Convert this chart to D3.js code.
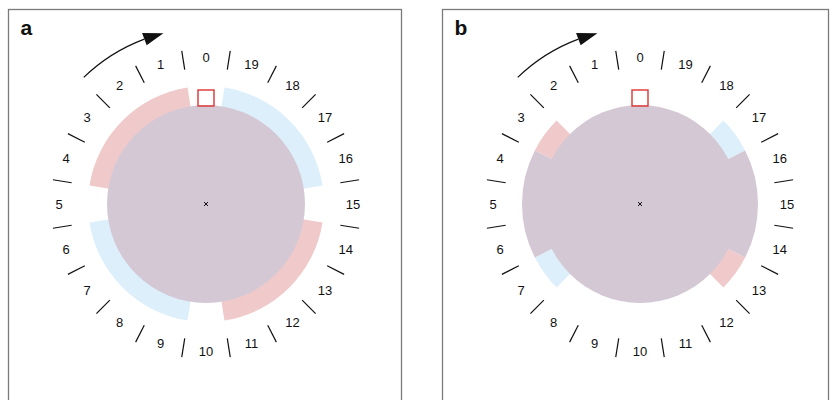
<!DOCTYPE html>
<html>
<head>
<meta charset="utf-8">
<script src="https://cdn.jsdelivr.net/npm/d3@7"></script>
<style>
  body { margin: 0; background: #fff; }
  svg { display: block; }
  text { font-family: "Liberation Sans", Arial, Helvetica, sans-serif; fill: #111; }
  .panel-box { fill: none; stroke: #7a7a7a; stroke-width: 1.3; }
  .tick { stroke: #111; stroke-width: 1.2; }
  .sector-label { font-size: 13px; }
  .panel-label { font-size: 21px; font-weight: bold; }
</style>
</head>
<body>
<svg id="chart"></svg>
<script>
  //begin: data
  var sectorLabels = d3.range(20).map(String);   // 0..19, counting anticlockwise from top
  var panelNames = ["a", "b"];
  var pinkSectors = [[1, 2, 3, 4, 11, 12, 13, 14], [3, 13]];
  var blueSectors = [[6, 7, 8, 9, 16, 17, 18, 19], [7, 17]];
  var bothSectors = [[], [4, 5, 6, 14, 15, 16]];
  //end: data

  //begin: layout conf.
  var svgWidth = 830,
      svgHeight = 400,
      panels = [
        {x: 8.5, y: 9.5, w: 393, cx: 206, cy: 204},
        {x: 442.5, y: 9.5, w: 386, cx: 640, cy: 204}
      ],
      discRadius = 99,
      ringRadius = 118,
      tickInner = 136,
      tickOuter = 155,
      labelRadius = 147,
      arrowRadius = 176,
      colors = {pink: "#f0caca", blue: "#ddeffb", both: "#d4c8d5"};
  //end: layout conf.

  var toRad = Math.PI / 180;

  // sector index -> angle (d3.arc convention: 0 at top, clockwise positive)
  var angle = d3.scaleLinear().domain([0, 20]).range([0, -360 * toRad]);
  var halfStep = Math.abs(angle(1) - angle(0)) / 2;

  // merge neighbouring sectors into runs so no seams show between them
  function runs(list) {
    var out = [];
    list.slice().sort(d3.ascending).forEach(function(i) {
      var last = out[out.length - 1];
      if (last && last[1] === i - 1) last[1] = i;
      else out.push([i, i]);
    });
    return out;
  }

  var ringArc = d3.arc()
    .innerRadius(discRadius - 1)
    .outerRadius(ringRadius)
    .startAngle(function(d){ return angle(d[1]) - halfStep; })
    .endAngle(function(d){ return angle(d[0]) + halfStep; });

  var svg = d3.select("#chart")
    .attr("width", svgWidth)
    .attr("height", svgHeight);

  panels.forEach(function(p, k) {
    svg.append("rect")
      .classed("panel-box", true)
      .attr("x", p.x)
      .attr("y", p.y)
      .attr("width", p.w)
      .attr("height", svgHeight + 20);

    svg.append("text")
      .classed("panel-label", true)
      .attr("x", p.x + 12)
      .attr("y", p.y + 25)
      .text(panelNames[k]);

    var g = svg.append("g")
      .attr("transform", "translate(" + [p.cx, p.cy] + ")");

    // coloured ring sectors
    [["pink", pinkSectors[k]], ["blue", blueSectors[k]], ["both", bothSectors[k]]].forEach(function(s) {
      g.selectAll(".ring-" + s[0])
        .data(runs(s[1]))
        .enter().append("path")
          .attr("class", "ring-" + s[0])
          .attr("d", ringArc)
          .style("fill", colors[s[0]]);
    });

    // central disc
    g.append("circle")
      .attr("r", discRadius)
      .style("fill", colors.both);

    // centre cross
    g.append("path")
      .attr("d", "M-2,-2L2,2M-2,2L2,-2")
      .style("stroke", "#111")
      .style("stroke-width", 1);

    // reference square at sector 0
    g.append("rect")
      .attr("x", -8)
      .attr("y", -discRadius - 15)
      .attr("width", 16)
      .attr("height", 16)
      .style("fill", "none")
      .style("stroke", "#e03333")
      .style("stroke-width", 1.4);

    // tick marks between sectors
    g.selectAll(".tick")
      .data(sectorLabels)
      .enter().append("line")
        .classed("tick", true)
        .attr("x1", function(d, i){ return tickInner * Math.sin(angle(i) + halfStep); })
        .attr("y1", function(d, i){ return -tickInner * Math.cos(angle(i) + halfStep); })
        .attr("x2", function(d, i){ return tickOuter * Math.sin(angle(i) + halfStep); })
        .attr("y2", function(d, i){ return -tickOuter * Math.cos(angle(i) + halfStep); });

    g.selectAll(".sector-label")
      .data(sectorLabels)
      .enter().append("text")
        .classed("sector-label", true)
        .attr("x", function(d, i){ return labelRadius * Math.sin(angle(i)); })
        .attr("y", function(d, i){ return -labelRadius * Math.cos(angle(i)); })
        .attr("text-anchor", "middle")
        .attr("dy", "0.35em")
        .text(function(d){ return d; });

    // direction arrow (arc + head)
    var a0 = -90 - 44, a1 = -90 - 20.5, tip = -90 - 14;
    var arcPath = d3.path();
    arcPath.arc(0, 0, arrowRadius, a0 * toRad, a1 * toRad, false);
    g.append("path")
      .attr("d", arcPath.toString())
      .style("fill", "none")
      .style("stroke", "#111")
      .style("stroke-width", 1.2);

    var head = [
      [arrowRadius * Math.cos(tip * toRad), arrowRadius * Math.sin(tip * toRad)],
      [(arrowRadius + 6.5) * Math.cos(a1 * toRad), (arrowRadius + 6.5) * Math.sin(a1 * toRad)],
      [(arrowRadius - 6.5) * Math.cos(a1 * toRad), (arrowRadius - 6.5) * Math.sin(a1 * toRad)]
    ];
    g.append("path")
      .attr("d", "M" + head.join("L") + "Z")
      .style("fill", "#111");
  });
</script>
</body>
</html>
